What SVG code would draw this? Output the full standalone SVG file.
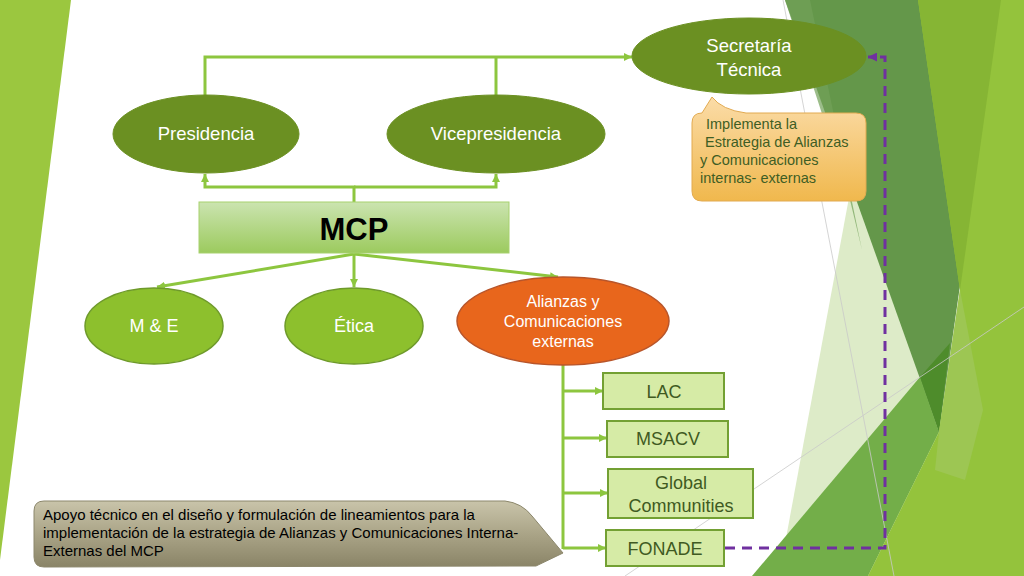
<svg xmlns="http://www.w3.org/2000/svg" width="1024" height="576" viewBox="0 0 1024 576">
<style>
.conn{fill:none;stroke:#8DC63F;stroke-width:3}
.dash{fill:none;stroke:#7030A0;stroke-width:3;stroke-dasharray:10 7}
.dark{fill:#6B9022;stroke:#6B9022;stroke-width:1}
.bright{fill:#8DC02D;stroke:#6E9A2A;stroke-width:1.5}
.orange{fill:#E8661C;stroke:#B8552A;stroke-width:1.5}
.box{fill:#D6EBA6;stroke:#73A033;stroke-width:2}
.wt{font-family:"Liberation Sans",Arial,sans-serif;fill:#FFFFFF;text-anchor:middle}
.bt{font-family:"Liberation Sans",Arial,sans-serif;fill:#3F5A22;text-anchor:middle;font-size:18px}
.ct{font-family:"Liberation Sans",Arial,sans-serif;fill:#3F5E24;font-size:14.5px}
.gt{font-family:"Liberation Sans",Arial,sans-serif;fill:#000000;font-size:15px}
.thin{stroke:#C9C9C9;stroke-width:0.8;fill:none}
</style>
<defs>
<marker id="ag" viewBox="0 0 8 8" markerWidth="8" markerHeight="8" refX="8" refY="4" orient="auto" markerUnits="userSpaceOnUse"><path d="M0,0 L8,4 L0,8 z" fill="#8DC63F"/></marker>
<marker id="ap" viewBox="0 0 8 8" markerWidth="9" markerHeight="9" refX="8" refY="4" orient="auto" markerUnits="userSpaceOnUse"><path d="M0,0 L8,4 L0,8 z" fill="#7030A0"/></marker>
<linearGradient id="gmcp" x1="0" y1="0" x2="0" y2="1"><stop offset="0" stop-color="#CBE4B0"/><stop offset="1" stop-color="#9CCA5E"/></linearGradient>
<linearGradient id="gor" x1="0" y1="0" x2="0" y2="1"><stop offset="0" stop-color="#FBDCA8"/><stop offset="1" stop-color="#F0B84D"/></linearGradient>
<linearGradient id="ggr" x1="0" y1="0" x2="0" y2="1"><stop offset="0" stop-color="#C9C4AA"/><stop offset="0.5" stop-color="#AAA487"/><stop offset="1" stop-color="#8A8467"/></linearGradient>
</defs>
<rect width="1024" height="576" fill="#FFFFFF"/>
<g id="background">
<polygon points="0,0 71,0 0,560" fill="#9BC73F"/>
<polygon points="855,165 779,576 900,576 940,430" fill="#DDEBC8"/>
<polygon points="785,0 1001,0 939,432" fill="#64974A"/>
<polygon points="785,0 810,0 862,250 850,200" fill="#72A158" opacity="0.7"/>
<polygon points="752,576 920,377 939,432 868,576" fill="#73AE49"/>
<polygon points="920,377 950,343 939,432" fill="#4E8C2B"/>
<polygon points="918,0 1024,0 1024,576 868,576 939,432 960,290" fill="#94C33C"/>
<polygon points="918,0 1001,0 960,290" fill="#86B534"/>
<polygon points="960,290 983,410 965,480 935,470 939,432" fill="#9DC653"/>
<line class="thin" x1="783" y1="0" x2="894" y2="576"/>
<line class="thin" x1="625" y1="576" x2="1024" y2="307"/>
</g>
<g id="connectors">
<polyline class="conn" points="205,96 205,57 632,57" marker-end="url(#ag)"/>
<line class="conn" x1="496" y1="57" x2="496" y2="96"/>
<polyline class="conn" points="354,202 354,187 205,187 205,174" marker-end="url(#ag)"/>
<polyline class="conn" points="354,187 496,187 496,174" marker-end="url(#ag)"/>
<line class="conn" x1="354" y1="254" x2="157" y2="287" marker-end="url(#ag)"/>
<line class="conn" x1="354" y1="254" x2="354" y2="287" marker-end="url(#ag)"/>
<line class="conn" x1="354" y1="254" x2="558" y2="277" marker-end="url(#ag)"/>
<line class="conn" x1="563" y1="365" x2="563" y2="549"/>
<line class="conn" x1="563" y1="391" x2="603" y2="391" marker-end="url(#ag)"/>
<line class="conn" x1="563" y1="438" x2="607" y2="438" marker-end="url(#ag)"/>
<line class="conn" x1="563" y1="493" x2="608" y2="493" marker-end="url(#ag)"/>
<line class="conn" x1="563" y1="548" x2="606" y2="548" marker-end="url(#ag)"/>
<polyline class="dash" points="725,548 885,548 885,57 868,57" marker-end="url(#ap)"/>
</g>
<g id="secretaria">
<ellipse class="dark" cx="749" cy="56" rx="117" ry="38"/>
<text class="wt" x="749" y="52" font-size="18.5">Secretaría</text>
<text class="wt" x="749" y="76" font-size="18.5">Técnica</text>
</g>
<g id="presidencia">
<ellipse class="dark" cx="206" cy="134" rx="93" ry="39"/>
<text class="wt" x="206" y="140" font-size="18.5">Presidencia</text>
</g>
<g id="vicepresidencia">
<ellipse class="dark" cx="496" cy="134" rx="109" ry="39"/>
<text class="wt" x="496" y="140" font-size="18.5">Vicepresidencia</text>
</g>
<g id="mcp">
<rect x="199" y="202" width="310" height="51" fill="url(#gmcp)" stroke="#A7D16E" stroke-width="1"/>
<text x="354" y="240" font-family="'Liberation Sans',Arial,sans-serif" font-weight="bold" font-size="31" text-anchor="middle" fill="#000000">MCP</text>
</g>
<g id="me">
<ellipse class="bright" cx="154" cy="326" rx="69" ry="38"/>
<text class="wt" x="154" y="332" font-size="18">M &amp; E</text>
</g>
<g id="etica">
<ellipse class="bright" cx="354" cy="326" rx="69" ry="38"/>
<text class="wt" x="354" y="332" font-size="18">Ética</text>
</g>
<g id="alianzas">
<ellipse class="orange" cx="563" cy="321" rx="106" ry="44"/>
<text class="wt" x="563" y="307" font-size="16">Alianzas y</text>
<text class="wt" x="563" y="327" font-size="16">Comunicaciones</text>
<text class="wt" x="563" y="347" font-size="16">externas</text>
</g>
<g id="lac">
<rect class="box" x="603" y="373" width="121" height="36"/>
<text class="bt" x="664" y="398">LAC</text>
</g>
<g id="msacv">
<rect class="box" x="607" y="421" width="121" height="36"/>
<text class="bt" x="668" y="445">MSACV</text>
</g>
<g id="global">
<rect class="box" x="608" y="469" width="145" height="49"/>
<text class="bt" x="681" y="489">Global</text>
<text class="bt" x="681" y="512">Communities</text>
</g>
<g id="fonade">
<rect class="box" x="606" y="530" width="118" height="36"/>
<text class="bt" x="665" y="555">FONADE</text>
</g>
<g id="callout-secretaria">
<path d="M702,113 L712,97 Q722,110 746,113 L856,113 Q866,113 866,123 L866,191 Q866,201 856,201 L702,201 Q692,201 692,191 L692,123 Q692,113 702,113 Z" fill="url(#gor)" stroke="#E2AA50" stroke-width="1"/>
<text class="ct" x="706" y="129">Implementa la</text>
<text class="ct" x="705" y="147">Estrategia de Alianzas</text>
<text class="ct" x="700" y="165">y Comunicaciones</text>
<text class="ct" x="700" y="183">internas- externas</text>
</g>
<g id="callout-apoyo">
<path d="M44,501 L505,501 Q522,503 532,516 L563,553 L536,566 L44,567 Q34,567 34,557 L34,511 Q34,501 44,501 Z" fill="url(#ggr)" stroke="#8C876C" stroke-width="1"/>
<text class="gt" x="43" y="520">Apoyo técnico en el diseño y formulación de lineamientos para la</text>
<text class="gt" x="43" y="538">implementación de la estrategia de Alianzas y Comunicaciones Interna-</text>
<text class="gt" x="43" y="556">Externas del MCP</text>
</g>
</svg>
